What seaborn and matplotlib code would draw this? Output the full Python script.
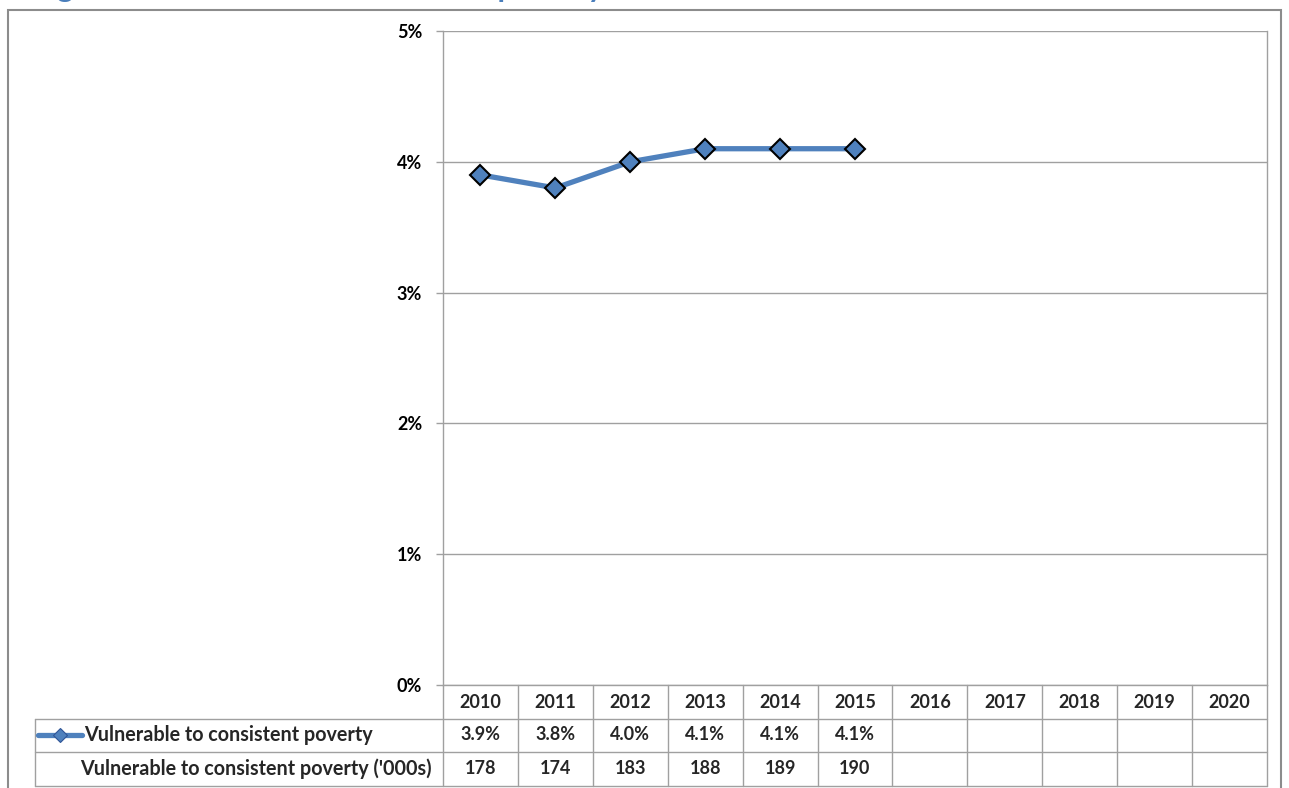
import matplotlib
matplotlib.use("Agg")
import matplotlib.pyplot as plt
import seaborn as sns
import pandas as pd
from matplotlib.patches import Rectangle

years = [str(y) for y in range(2010, 2021)]
share = [3.9, 3.8, 4.0, 4.1, 4.1, 4.1]
share_labels = ["3.9%", "3.8%", "4.0%", "4.1%", "4.1%", "4.1%"]
counts = ["178", "174", "183", "188", "189", "190"]
series_name = "Vulnerable to consistent poverty"
count_name = "Vulnerable to consistent poverty ('000s)"
title = "Figure 5: Vulnerable to consistent poverty"
yticks = [0, 1, 2, 3, 4, 5]
ytick_labels = ["0%", "1%", "2%", "3%", "4%", "5%"]

blue = "#4F81BD"
grey = "#A0A0A0"
fs_lab = 14.2
fs_num = 13

sns.set_theme(style="white")
plt.rcParams["font.family"] = ["Lato", "DejaVu Sans"]

W, H = 1289, 788
fig = plt.figure(figsize=(W / 100, H / 100), dpi=100)
ax = fig.add_axes([443 / W, 1 - 685 / H, 824 / W, 654 / H])

df = pd.DataFrame({"pos": range(len(share)), "share": share})
sns.lineplot(data=df, x="pos", y="share", ax=ax, color=blue, lw=3.8,
             marker="D", markersize=10.5, markerfacecolor=blue,
             markeredgecolor="black", markeredgewidth=1.5, zorder=5)

ax.set_xlim(-0.5, len(years) - 0.5)
ax.set_ylim(0, 5)
ax.set_xticks([])
ax.set_yticks(yticks)
ax.set_yticklabels(ytick_labels, fontsize=fs_num, fontweight="bold", color="black")
ax.set_xlabel("")
ax.set_ylabel("")
ax.yaxis.grid(True, color=grey, lw=1)
ax.tick_params(axis="y", length=5, width=1, color=grey, pad=10, left=True)
for side in ["left", "bottom", "right"]:
    ax.spines[side].set_color(grey)
    ax.spines[side].set_linewidth(1)
ax.spines["top"].set_visible(False)

# data table under the axis
tr = ax.get_xaxis_transform()
col_px = 824 / len(years)


def ay(py):
    return (685 - py) / 654


def px2x(p):
    return -0.5 + (p - 443) / col_px


kw = dict(transform=tr, clip_on=False, color=grey, lw=1)
rows = [685, 718.5, 752, 785.5]
left = px2x(35)
for k in range(len(years) + 1):
    ax.plot([k - 0.5, k - 0.5], [ay(rows[0]), ay(rows[-1])], **kw)
ax.plot([left, left], [ay(rows[1]), ay(rows[-1])], **kw)
for r in rows[1:]:
    ax.plot([left, len(years) - 0.5], [ay(r), ay(r)], **kw)

tk = dict(transform=tr, ha="center", va="center", fontsize=fs_num,
          fontweight="bold", clip_on=False)
for i, yr in enumerate(years):
    ax.text(i, ay(702), yr, **tk)
for i, v in enumerate(share_labels):
    ax.text(i, ay(735), v, **tk)
for i, v in enumerate(counts):
    ax.text(i, ay(769), v, **tk)

ax.plot([px2x(38), px2x(82)], [ay(735), ay(735)], transform=tr, clip_on=False,
        color=blue, lw=3.8, solid_capstyle="round")
ax.plot([px2x(60)], [ay(735)], transform=tr, clip_on=False, marker="D",
        markersize=7.5, markerfacecolor=blue, markeredgecolor="#2F5597",
        markeredgewidth=0.8)
ax.text(px2x(84), ay(735), series_name, transform=tr, ha="left", va="center",
        fontsize=fs_lab, fontweight="bold", clip_on=False)
ax.text(px2x(432), ay(769), count_name, transform=tr, ha="right", va="center",
        fontsize=fs_lab, fontweight="bold", clip_on=False)

# chart frame and the cropped title above it
fig.patches.append(Rectangle((8 / W, -0.05), 1273 / W, 1 - 10 / H + 0.05,
                             transform=fig.transFigure, fill=False,
                             edgecolor="#8C8C8C", lw=1.5))
fig.text(32 / W, 1 + 3 / H, title, color="#4A7EBB", fontsize=22,
         fontweight="bold", va="baseline")

fig.savefig("out.png", dpi=100)
